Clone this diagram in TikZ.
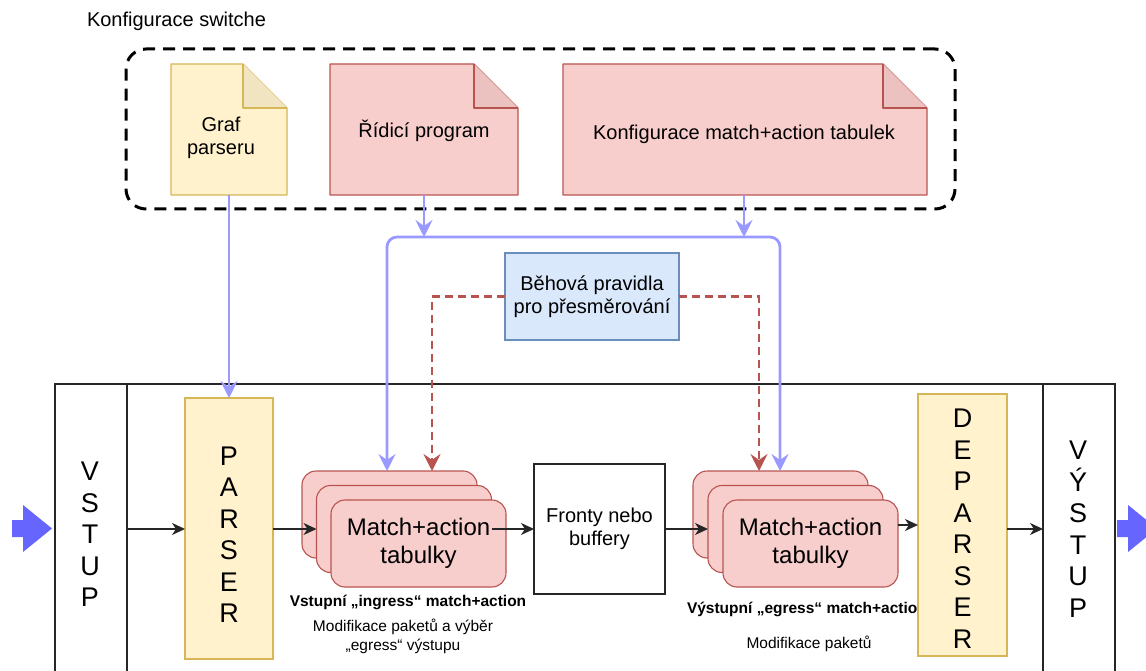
\documentclass[tikz,border=0pt]{standalone}
\usepackage{fontspec}
\setmainfont{Liberation Sans}
\usetikzlibrary{arrows.meta,calc}

\definecolor{yelfill}{HTML}{FFF2CC}
\definecolor{yeldraw}{HTML}{D6B656}
\definecolor{yelfold}{HTML}{F1E5C1}
\definecolor{redfill}{HTML}{F8CECC}
\definecolor{reddraw}{HTML}{B85450}
\definecolor{redfold}{HTML}{EBC2C0}
\definecolor{bluefill}{HTML}{DAE8FC}
\definecolor{bluedraw}{HTML}{6C8EBF}
\definecolor{linkblue}{HTML}{9999FF}
\definecolor{blockblue}{HTML}{6666FF}

% folded-corner note outline around an (empty) node
\newcommand\foldnote[4]{%
  \draw[#3, fill=#2, line width=1.1pt, line join=round]
    (#1.north west) -- ($(#1.north east)+(-44,0)$) -- ($(#1.north east)+(0,44)$)
    -- (#1.south east) -- (#1.south west) -- cycle;
  \draw[#3, fill=#4, line width=1.1pt, line join=round]
    ($(#1.north east)+(-44,0)$) -- ($(#1.north east)+(-44,44)$) -- ($(#1.north east)+(0,44)$);
}

\begin{document}
\begin{tikzpicture}[x=1pt, y=-1pt,
  font=\fontsize{20}{23}\selectfont,
  every node/.style={inner sep=0pt, outer sep=0pt, align=center},
  notebody/.style={minimum height=131pt},
  cardbox/.style={draw=reddraw, fill=redfill, line width=1.1pt, rounded corners=14pt,
                  minimum width=175pt, minimum height=87pt},
  stagebox/.style={draw=yeldraw, fill=yelfill, line width=1.1pt},
  letters/.style={font=\fontsize{27}{31.5}\selectfont},
  cardtext/.style={font=\fontsize{24}{28}\selectfont},
  boldlabel/.style={font=\fontsize{15.5}{19}\selectfont\bfseries},
  smalllabel/.style={font=\fontsize{15.5}{19}\selectfont},
  frameline/.style={draw=black!85, line width=1.3pt},
  flowarrow/.style={frameline, line width=1.5pt, -{Stealth[length=13pt,width=12pt,inset=4pt]}},
  bigtip/.tip={Stealth[length=17pt,width=17pt,inset=6pt]},
  bluelink/.style={draw=linkblue, line width=2.8pt},
  reddash/.style={draw=reddraw, line width=2.8pt, dash pattern=on 8pt off 5pt, -bigtip}
]
\useasboundingbox (0,0) rectangle (1146,671);
\clip (0,0) rectangle (1146,671);

% ---- switch configuration group ----
\node[anchor=west] (cfgtitle) at (87,21) {Konfigurace switche};
\node[draw=black, line width=3pt, dash pattern=on 12pt off 8pt, rounded corners=20pt,
      minimum width=829pt, minimum height=160pt] (cfg) at (540.5,129) {};

\node[notebody, minimum width=116pt] (graf) at (229,129.5) {};
\foldnote{graf}{yelfill}{yeldraw}{yelfold}
\node (graft) at (221,138) {Graf\\parseru};

\node[notebody, minimum width=188pt] (ridici) at (424,129.5) {};
\foldnote{ridici}{redfill}{reddraw}{redfold}
\node (ridicit) at (424,131) {Řídicí program};

\node[notebody, minimum width=364pt] (konf) at (745,129.5) {};
\foldnote{konf}{redfill}{reddraw}{redfold}
\node (konft) at (744,134) {Konfigurace match+action tabulek};

% ---- runtime forwarding rules ----
\node[draw=bluedraw, fill=bluefill, line width=1.1pt, minimum width=174pt, minimum height=87pt]
  (beh) at (592,296.5) {Běhová pravidla\\pro přesměrování};

% ---- switch pipeline frame ----
\draw[frameline] (55,700) |- (1115,384) -- (1115,700);
\draw[frameline] (127,384) -- (127,700);
\draw[frameline] (1043,384) -- (1043,700);

\node[letters] (vstup) at (90,534.3) {V\\S\\T\\U\\P};
\node[letters] (vystup) at (1078,529.2) {V\\Ý\\S\\T\\U\\P};
\coordinate (vstupout) at (127,529);
\coordinate (vystupin) at (1043,529);

% input / output block arrows
\fill[blockblue] (12,520) -- (23,520) -- (23,505) -- (52,528.5) -- (23,552) -- (23,537) -- (12,537) -- cycle;
\fill[blockblue] (1117,520) -- (1128,520) -- (1128,505) -- (1157,528.5) -- (1128,552) -- (1128,537) -- (1117,537) -- cycle;

% parser
\node[stagebox, minimum width=88pt, minimum height=261pt] (parser) at (229,528.5) {};
\node[letters] (parsert) at (229,534.5) {P\\A\\R\\S\\E\\R};

% ingress match+action stack
\node[cardbox] (ing1) at (389.5,514.5) {};
\node[cardbox] (ing2) at (404,529) {};
\node[cardbox, cardtext] (ing3) at (418.5,543.5) {Match+action\\tabulky};
\node[boldlabel] (ingl) at (408,602) {Vstupní „ingress“ match+action};
\node[smalllabel] (ingd) at (403,636.5) {Modifikace paketů a výběr\\„egress“ výstupu};

% queues
\node[frameline, minimum width=131pt, minimum height=130pt] (fronty) at (599.5,529) {Fronty nebo\\buffery};

% egress match+action stack
\node[cardbox] (eg1) at (780.5,514.5) {};
\node[cardbox] (eg2) at (795.5,529) {};
\node[cardbox, cardtext] (eg3) at (810.5,543.5) {Match+action\\tabulky};
\node[boldlabel, anchor=west] (egl) at (687,609) {Výstupní „egress“ match+action};
\node[smalllabel] (egd) at (809,644) {Modifikace paketů};

% deparser
\node[stagebox, minimum width=89pt, minimum height=262pt] (dep) at (962.5,525) {};
\node[letters] (dept) at (962.5,528.5) {D\\E\\P\\A\\R\\S\\E\\R};

% ---- packet flow ----
\draw[flowarrow] (vstupout) -- (vstupout -| parser.west);
\draw[flowarrow] (parser.east |- ing2.west) -- (ing2.west);
\draw[flowarrow] (ing2.east) -- (fronty.west);
\draw[flowarrow] (fronty.east) -- (eg2.west);
\draw[flowarrow] (eg3.east |- dep.west) -- (dep.west);
\draw[flowarrow] (dep.east |- vystupin) -- (vystupin);

% ---- configuration links ----
\coordinate (busL) at (387,237);
\coordinate (busR) at (780,237);
\draw[bluelink, -bigtip] (graf.south) -- (parser.north);
\draw[bluelink, -bigtip] (ridici.south) -- (ridici.south |- busL);
\draw[bluelink, -bigtip] (744,195) -- (744,237);
\draw[bluelink, rounded corners=10pt, bigtip-bigtip]
  (busL |- ing1.north) -- (busL) -- (busR) -- (busR |- eg1.north);

% ---- forwarding rule links ----
\draw[reddash] (beh.west) -| (432,471);
\draw[reddash] (beh.east) -| (759,471);
\end{tikzpicture}
\end{document}
